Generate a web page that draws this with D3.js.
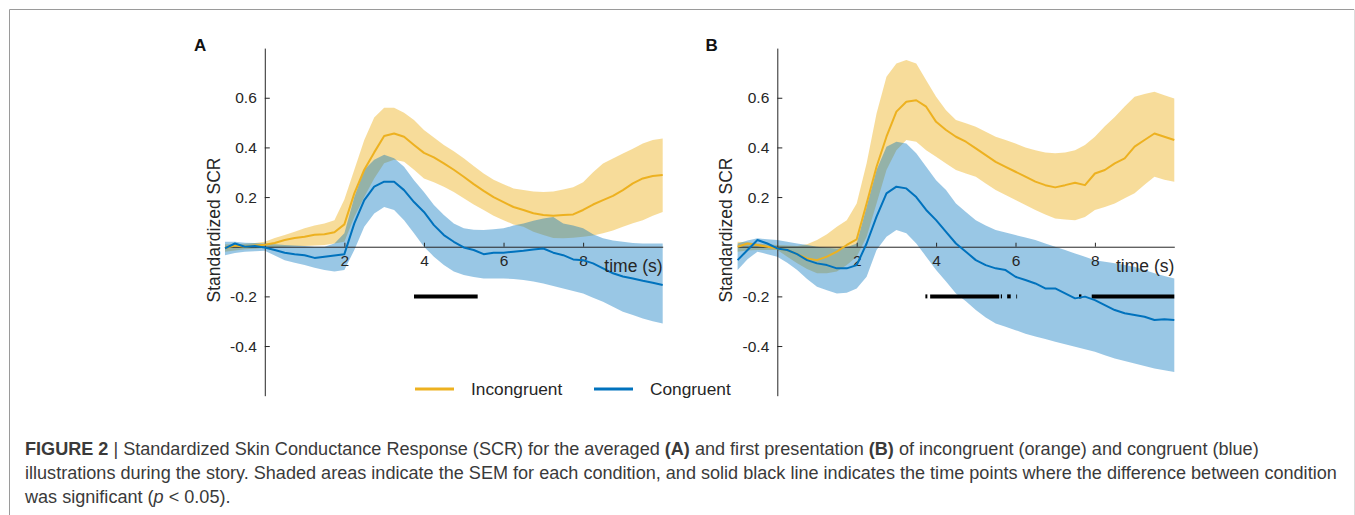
<!DOCTYPE html>
<html>
<head>
<meta charset="utf-8">
<script src="https://cdn.jsdelivr.net/npm/d3@7"></script>
<style>
  body { margin: 0; background: #fff; }
  svg { display: block; font-family: "Liberation Sans", Arial, Helvetica, sans-serif; }
  .tick text { fill: #262626; }
</style>
</head>
<body>
<div class="fig-container"></div>
<script>
/*******************************/
/*            Data             */
/*******************************/

// time axis (s), same sampling for every series
var time = [-1, -0.75, -0.5, -0.25, 0, 0.25, 0.5, 0.75, 1, 1.25, 1.5, 1.75,
            2, 2.25, 2.5, 2.75, 3, 3.25, 3.5, 3.75, 4, 4.25, 4.5, 4.75,
            5, 5.25, 5.5, 5.75, 6, 6.25, 6.5, 6.75, 7, 7.25, 7.5, 7.75,
            8, 8.25, 8.5, 8.75, 9, 9.25, 9.5, 9.75, 10];

// panel A : averaged presentation
var a_incong_mean = [-0.005, 0.005, 0.0, 0.005, 0.008, 0.015, 0.027, 0.035, 0.04, 0.048, 0.05, 0.058,
                     0.09, 0.215, 0.31, 0.38, 0.446, 0.456, 0.443, 0.41, 0.378, 0.36, 0.336, 0.31,
                     0.282, 0.252, 0.225, 0.2, 0.18, 0.16, 0.148, 0.135, 0.128, 0.125, 0.128, 0.13,
                     0.148, 0.17, 0.188, 0.205, 0.228, 0.255, 0.275, 0.285, 0.289];
var a_incong_hi   = [0.01, 0.01, 0.012, 0.015, 0.02, 0.035, 0.047, 0.06, 0.074, 0.085, 0.094, 0.107,
                     0.19, 0.31, 0.43, 0.52, 0.56, 0.56, 0.54, 0.51, 0.47, 0.44, 0.41, 0.385,
                     0.356, 0.325, 0.295, 0.27, 0.252, 0.235, 0.228, 0.222, 0.22, 0.222, 0.23, 0.24,
                     0.26, 0.3, 0.335, 0.355, 0.375, 0.395, 0.416, 0.43, 0.436];
var a_incong_lo   = [-0.02, -0.015, -0.01, -0.008, -0.005, -0.002, 0.0, 0.002, 0.003, 0.005, 0.007, 0.013,
                     0.02, 0.12, 0.2, 0.275, 0.336, 0.35, 0.342, 0.31, 0.275, 0.26, 0.242, 0.22,
                     0.195, 0.17, 0.148, 0.125, 0.107, 0.09, 0.08, 0.06, 0.047, 0.035, 0.034, 0.036,
                     0.04, 0.045, 0.054, 0.065, 0.08, 0.095, 0.107, 0.125, 0.14];
var a_cong_mean   = [-0.007, 0.013, 0.0, 0.003, -0.003, -0.013, -0.024, -0.03, -0.034, -0.045, -0.04, -0.035,
                     -0.03, 0.094, 0.188, 0.242, 0.262, 0.262, 0.228, 0.18, 0.14, 0.087, 0.047, 0.02,
                     -0.003, -0.013, -0.03, -0.024, -0.024, -0.02, -0.016, -0.011, -0.007, -0.024, -0.034, -0.051,
                     -0.054, -0.067, -0.087, -0.107, -0.12, -0.128, -0.137, -0.145, -0.154];
var a_cong_hi     = [0.02, 0.02, 0.016, 0.015, 0.013, 0.01, 0.007, 0.005, 0.003, 0.0, 0.0, 0.013,
                     0.054, 0.2, 0.31, 0.35, 0.37, 0.356, 0.322, 0.268, 0.22, 0.168, 0.128, 0.094,
                     0.074, 0.068, 0.067, 0.07, 0.074, 0.085, 0.094, 0.105, 0.114, 0.12, 0.094, 0.085,
                     0.074, 0.05, 0.034, 0.025, 0.02, 0.015, 0.013, 0.013, 0.013];
var a_cong_lo     = [-0.034, -0.025, -0.02, -0.018, -0.016, -0.035, -0.054, -0.065, -0.074, -0.085, -0.094, -0.1,
                     -0.094, -0.013, 0.08, 0.134, 0.16, 0.148, 0.107, 0.054, 0.0, -0.04, -0.074, -0.1,
                     -0.114, -0.122, -0.128, -0.128, -0.128, -0.13, -0.134, -0.14, -0.148, -0.158, -0.168, -0.178,
                     -0.188, -0.205, -0.222, -0.242, -0.262, -0.275, -0.289, -0.3, -0.309];
// time windows (s) where the difference was significant
var a_signif = [[3.75, 5.35]];

// panel B : first presentation
var b_incong_mean = [0.0, 0.013, 0.007, 0.0, -0.007, -0.013, -0.03, -0.047, -0.054, -0.04, -0.02, 0.007,
                     0.03, 0.174, 0.322, 0.443, 0.544, 0.584, 0.59, 0.564, 0.503, 0.47, 0.443, 0.423,
                     0.396, 0.369, 0.342, 0.322, 0.302, 0.282, 0.262, 0.248, 0.239, 0.248, 0.258, 0.248,
                     0.295, 0.309, 0.336, 0.356, 0.403, 0.43, 0.456, 0.443, 0.43];
var b_incong_hi   = [0.02, 0.018, 0.013, 0.01, 0.007, 0.005, 0.003, 0.01, 0.027, 0.05, 0.08, 0.107,
                     0.174, 0.336, 0.537, 0.685, 0.738, 0.752, 0.738, 0.671, 0.604, 0.55, 0.51, 0.497,
                     0.483, 0.463, 0.443, 0.43, 0.416, 0.4, 0.389, 0.38, 0.376, 0.38, 0.389, 0.41,
                     0.443, 0.485, 0.523, 0.565, 0.604, 0.615, 0.624, 0.61, 0.597];
var b_incong_lo   = [-0.02, -0.015, -0.013, -0.013, -0.013, -0.04, -0.067, -0.09, -0.107, -0.107, -0.1, -0.074,
                     -0.04, 0.04, 0.174, 0.309, 0.389, 0.43, 0.423, 0.389, 0.362, 0.335, 0.309, 0.295,
                     0.282, 0.255, 0.228, 0.208, 0.188, 0.168, 0.148, 0.13, 0.114, 0.11, 0.107, 0.12,
                     0.148, 0.16, 0.174, 0.195, 0.215, 0.25, 0.282, 0.27, 0.262];
var b_cong_mean   = [-0.054, -0.013, 0.027, 0.013, -0.007, -0.013, -0.03, -0.054, -0.067, -0.074, -0.087, -0.087,
                     -0.074, 0.013, 0.121, 0.215, 0.242, 0.235, 0.2, 0.148, 0.107, 0.06, 0.013, -0.02,
                     -0.054, -0.074, -0.087, -0.094, -0.121, -0.134, -0.148, -0.168, -0.168, -0.188, -0.208, -0.201,
                     -0.215, -0.235, -0.255, -0.268, -0.275, -0.282, -0.295, -0.292, -0.295];
var b_cong_hi     = [0.013, 0.025, 0.034, 0.03, 0.027, 0.02, 0.013, 0.007, 0.0, -0.004, -0.007, -0.002,
                     0.013, 0.161, 0.309, 0.403, 0.423, 0.416, 0.376, 0.322, 0.268, 0.228, 0.174, 0.14,
                     0.107, 0.085, 0.067, 0.057, 0.047, 0.037, 0.027, 0.013, 0.0, -0.013, -0.027, -0.04,
                     -0.054, -0.06, -0.067, -0.074, -0.081, -0.094, -0.107, -0.118, -0.128];
var b_cong_lo     = [-0.094, -0.05, -0.02, -0.03, -0.04, -0.065, -0.094, -0.13, -0.161, -0.175, -0.188, -0.185,
                     -0.168, -0.121, -0.013, 0.04, 0.067, 0.054, 0.013, -0.04, -0.094, -0.14, -0.188, -0.22,
                     -0.255, -0.285, -0.309, -0.322, -0.336, -0.35, -0.362, -0.372, -0.383, -0.393, -0.403, -0.413,
                     -0.423, -0.437, -0.45, -0.46, -0.47, -0.48, -0.49, -0.497, -0.505];
var b_signif = [[3.73, 3.78], [3.85, 5.59], [5.63, 5.66], [5.79, 5.88], [6.02, 6.04],
                [7.6, 7.66], [7.92, 10]];

// axis ticks and labels
var x_ticks = [2, 4, 6, 8];
var y_ticks = [-0.4, -0.2, 0.2, 0.4, 0.6];
var legend_labels = ["Incongruent", "Congruent"];

/*******************************/
/*         Page set-up         */
/*******************************/

var width = 1355, height = 515;
var color_incong = "#EDB120",
    color_cong   = "#0072BD",
    axis_color   = "#262626";

var svg = d3.select(".fig-container").append("svg")
  .attr("width", width)
  .attr("height", height);

// thin frame round the figure
svg.append("line").attr("x1", 9.5).attr("x2", 1354).attr("y1", 9.5).attr("y2", 9.5)
  .attr("stroke", "#9a9a9a");
svg.append("line").attr("x1", 9.5).attr("x2", 9.5).attr("y1", 9.5).attr("y2", height)
  .attr("stroke", "#9a9a9a");
svg.append("line").attr("x1", 1354.5).attr("x2", 1354.5).attr("y1", 9.5).attr("y2", height)
  .attr("stroke", "#dcdcdc");

/*******************************/
/*        Draw a panel         */
/*******************************/

function zip(t, a, b) {
  return t.map(function(d, i) { return {t: d, a: a[i], b: b !== undefined ? b[i] : null}; });
}

function draw_panel(p) {
  var x = d3.scaleLinear().domain([-1, 10]).range([p.x0, p.x1]);
  var y = d3.scaleLinear().domain([-0.6, 0.8]).range([395.7, 48.1]);

  var g = svg.append("g");

  var area = d3.area()
    .x(function(d) { return x(d.t); })
    .y0(function(d) { return y(d.a); })
    .y1(function(d) { return y(d.b); });

  var line = d3.line()
    .x(function(d) { return x(d.t); })
    .y(function(d) { return y(d.a); });

  // SEM bands (blue on top of orange so the overlap turns greenish)
  g.append("path").datum(zip(time, p.incong_lo, p.incong_hi))
    .attr("d", area).attr("fill", color_incong).attr("fill-opacity", 0.45);
  g.append("path").datum(zip(time, p.cong_lo, p.cong_hi))
    .attr("d", area).attr("fill", color_cong).attr("fill-opacity", 0.4);

  // y axis, ticks inward
  var y_axis = d3.axisLeft(y)
    .tickValues(y_ticks)
    .tickSize(-5)
    .tickSizeOuter(0)
    .tickPadding(8)
    .tickFormat(function(d) { return d.toFixed(1); });
  var gy = g.append("g")
    .attr("transform", "translate(" + x(0) + ",0)")
    .call(y_axis);

  // x axis through zero
  var x_axis = d3.axisBottom(x)
    .tickValues(x_ticks)
    .tickSize(-4)
    .tickSizeOuter(0)
    .tickPadding(8);
  var gx = g.append("g")
    .attr("transform", "translate(0," + y(0) + ")")
    .call(x_axis);

  [gx, gy].forEach(function(ax) {
    ax.attr("font-size", 15.5).attr("font-family", "Liberation Sans, Arial, sans-serif");
    ax.selectAll(".domain, .tick line").attr("stroke", axis_color);
    ax.selectAll(".tick text").attr("fill", axis_color);
  });

  // significance bars at -0.2
  g.selectAll(".sig")
    .data(p.signif)
    .enter()
    .append("line")
    .attr("x1", function(d) { return x(d[0]); })
    .attr("x2", function(d) { return x(d[1]); })
    .attr("y1", y(-0.2))
    .attr("y2", y(-0.2))
    .attr("stroke", "#000")
    .attr("stroke-width", 4);

  // mean lines
  g.append("path").datum(zip(time, p.incong_mean))
    .attr("d", line).attr("fill", "none")
    .attr("stroke", color_incong).attr("stroke-width", 2).attr("stroke-linejoin", "round");
  g.append("path").datum(zip(time, p.cong_mean))
    .attr("d", line).attr("fill", "none")
    .attr("stroke", color_cong).attr("stroke-width", 2).attr("stroke-linejoin", "round");

  // labels
  g.append("text")
    .attr("x", x(10)).attr("y", y(0) + 25)
    .attr("text-anchor", "end")
    .attr("font-size", 17.5).attr("fill", axis_color)
    .text("time (s)");

  g.append("text")
    .attr("transform", "translate(" + (x(0) - 45) + "," + 230 + ") rotate(-90)")
    .attr("text-anchor", "middle")
    .attr("font-size", 17.5).attr("fill", axis_color)
    .text("Standardized SCR");

  g.append("text")
    .attr("x", x(-1) - p.letter_dx).attr("y", 51)
    .attr("font-size", 17).attr("font-weight", "bold").attr("fill", "#111")
    .text(p.letter);
}

draw_panel({
  letter: "A", letter_dx: 31, x0: 225, x1: 662.7,
  incong_mean: a_incong_mean, incong_hi: a_incong_hi, incong_lo: a_incong_lo,
  cong_mean: a_cong_mean, cong_hi: a_cong_hi, cong_lo: a_cong_lo,
  signif: a_signif
});

draw_panel({
  letter: "B", letter_dx: 32, x0: 737.6, x1: 1174.3,
  incong_mean: b_incong_mean, incong_hi: b_incong_hi, incong_lo: b_incong_lo,
  cong_mean: b_cong_mean, cong_hi: b_cong_hi, cong_lo: b_cong_lo,
  signif: b_signif
});

/*******************************/
/*           Legend            */
/*******************************/

var legend = svg.append("g").attr("transform", "translate(415,389)");
var legend_items = [
  {label: legend_labels[0], color: color_incong, x: 0},
  {label: legend_labels[1], color: color_cong, x: 179}
];
legend_items.forEach(function(d) {
  legend.append("line")
    .attr("x1", d.x).attr("x2", d.x + 39).attr("y1", 0).attr("y2", 0)
    .attr("stroke", d.color).attr("stroke-width", 3);
  legend.append("text")
    .attr("x", d.x + 56).attr("y", 6)
    .attr("font-size", 17.3).attr("fill", axis_color)
    .text(d.label);
});

/*******************************/
/*           Caption           */
/*******************************/

var caption = svg.append("text")
  .attr("font-size", 16)
  .attr("fill", "#3a3a3a");

var line1 = caption.append("tspan").attr("x", 25).attr("y", 455);
line1.append("tspan").attr("font-weight", "bold").text("FIGURE 2");
line1.append("tspan").text(" | ");
line1.append("tspan").text("Standardized Skin Conductance Response (SCR) for the averaged ");
line1.append("tspan").attr("font-weight", "bold").text("(A)");
line1.append("tspan").text(" and first presentation ");
line1.append("tspan").attr("font-weight", "bold").text("(B)");
line1.append("tspan").text(" of incongruent (orange) and congruent (blue)");

caption.append("tspan").attr("x", 25).attr("y", 479)
  .text("illustrations during the story. Shaded areas indicate the SEM for each condition, and solid black line indicates the time points where the difference between condition");

var line3 = caption.append("tspan").attr("x", 25).attr("y", 503);
line3.append("tspan").text("was significant (");
line3.append("tspan").attr("font-style", "italic").text("p");
line3.append("tspan").text(" < 0.05).");

// first caption line runs from x=25 to about x=1260 in the original
var line1_width = 0;
line1.selectAll("tspan").each(function() { line1_width += this.getComputedTextLength(); });
caption.attr("font-size", 16 * 1235 / line1_width);
</script>
</body>
</html>
